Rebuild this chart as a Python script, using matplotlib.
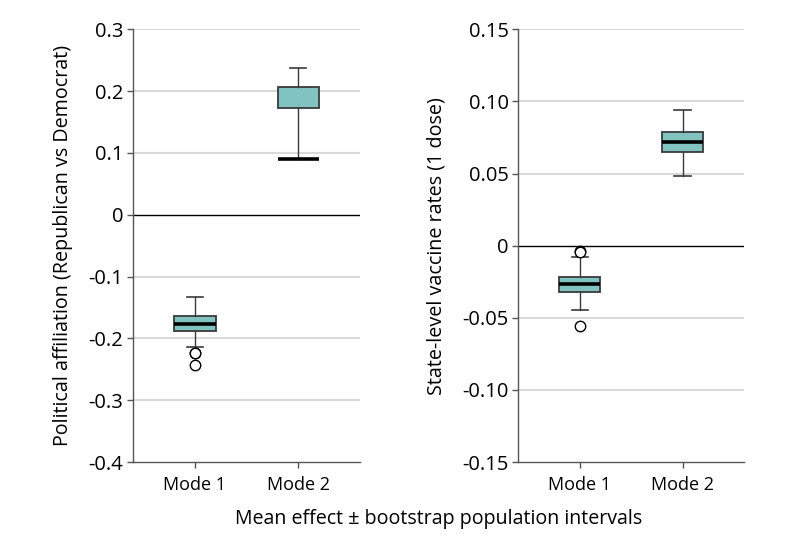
import matplotlib
matplotlib.use("Agg")
import matplotlib.pyplot as plt

plt.rcParams['font.family'] = ['Open Sans', 'DejaVu Sans']
plt.rcParams['axes.unicode_minus'] = False

categories = ["Mode 1", "Mode 2"]

# Left panel: political affiliation
pol_whislo = [-0.2137, 0.090]
pol_q1 = [-0.188, 0.172]
pol_med = [-0.176, 0.090]
pol_q3 = [-0.164, 0.206]
pol_whishi = [-0.1335, 0.238]
pol_fliers = [[-0.2232, -0.2242, -0.2425], []]
pol_ticks = [0.3, 0.2, 0.1, 0, -0.1, -0.2, -0.3, -0.4]
pol_ticklabels = ["0.3", "0.2", "0.1", "0", "-0.1", "-0.2", "-0.3", "-0.4"]

# Right panel: vaccine rates
vac_whislo = [-0.0449, 0.0481]
vac_q1 = [-0.0323, 0.0646]
vac_med = [-0.0263, 0.0717]
vac_q3 = [-0.0220, 0.0790]
vac_whishi = [-0.0076, 0.0940]
vac_fliers = [[-0.0037, -0.0045, -0.0559], []]
vac_ticks = [0.15, 0.10, 0.05, 0, -0.05, -0.10, -0.15]
vac_ticklabels = ["0.15", "0.10", "0.05", "0", "-0.05", "-0.10", "-0.15"]

BOX_COLOR = "#80c3c1"
EDGE = "#3a3a3a"

fig = plt.figure(figsize=(7.94, 5.46), dpi=100)
ax1 = fig.add_axes([0.1675, 0.1538, 0.286, 0.7925])
ax2 = fig.add_axes([0.6528, 0.1538, 0.2846, 0.7925])


def draw(ax, whislo, q1, med, q3, whishi, fliers, ticks, ticklabels, ylabel):
    stats = []
    for i in range(len(categories)):
        stats.append(dict(whislo=whislo[i], q1=q1[i], med=med[i], q3=q3[i],
                          whishi=whishi[i], fliers=fliers[i], label=categories[i]))
    ax.bxp(stats, positions=[1, 2], widths=0.4, patch_artist=True,
           boxprops=dict(facecolor=BOX_COLOR, edgecolor=EDGE, linewidth=1.3),
           medianprops=dict(color="black", linewidth=2.6),
           whiskerprops=dict(color=EDGE, linewidth=1.0),
           capprops=dict(color=EDGE, linewidth=1.2),
           capwidths=0.16,
           flierprops=dict(marker="o", markerfacecolor="white", markeredgecolor="black",
                           markersize=7.5, markeredgewidth=1.0),
           zorder=3)
    ax.set_xlim(0.4, 2.6)
    ax.set_ylim(ticks[-1], ticks[0])
    ax.set_yticks(ticks)
    ax.set_yticklabels(ticklabels)
    ax.set_xticks([1, 2])
    ax.set_xticklabels(categories)
    for t in ticks:
        if t == 0:
            ax.axhline(0, color="black", linewidth=1.0, zorder=2)
        elif t != ticks[-1]:
            ax.axhline(t, color="#d9d9d9", linewidth=1.5, zorder=1)
    for s in ["top", "right"]:
        ax.spines[s].set_visible(False)
    for s in ["left", "bottom"]:
        ax.spines[s].set_color("#555555")
        ax.spines[s].set_linewidth(1.0)
    ax.tick_params(axis="both", colors="#555555", labelcolor="black",
                   length=4, width=1.0, labelsize=14.5, pad=3)
    ax.tick_params(axis="x", labelsize=13, pad=6)
    ax.set_ylabel(ylabel, fontsize=14.2, labelpad=11)


draw(ax1, pol_whislo, pol_q1, pol_med, pol_q3, pol_whishi, pol_fliers,
     pol_ticks, pol_ticklabels, "Political affiliation (Republican vs Democrat)")
draw(ax2, vac_whislo, vac_q1, vac_med, vac_q3, vac_whishi, vac_fliers,
     vac_ticks, vac_ticklabels, "State-level vaccine rates (1 dose)")

fig.text(0.552, 0.049, "Mean effect \u00b1 bootstrap population intervals",
         ha="center", va="center", fontsize=14.1)

fig.savefig("out.png", dpi=100)
